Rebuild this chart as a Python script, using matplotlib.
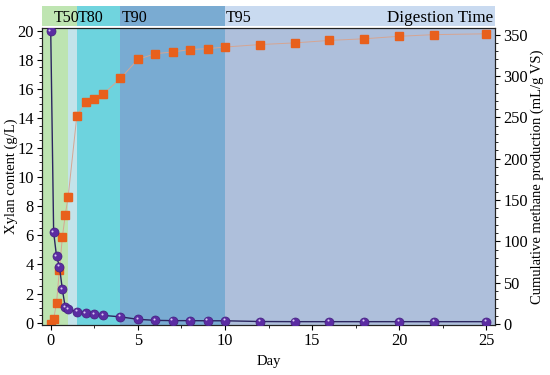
import numpy as np
import matplotlib.pyplot as plt
from matplotlib.transforms import ScaledTranslation
from matplotlib.ticker import MultipleLocator

plt.rcParams['font.family'] = ['Liberation Serif', 'DejaVu Serif']
plt.rcParams['font.size'] = 10.5

# Xylan content (g/L), left axis
xylan_day = [0, 0.167, 0.333, 0.5, 0.667, 0.833, 1.0, 1.5, 2, 2.5, 3, 4, 5,
             6, 7, 8, 9, 10, 12, 14, 16, 18, 20, 22, 25]
xylan = [20.0, 6.2, 4.55, 3.85, 2.28, 1.06, 0.92, 0.75, 0.67, 0.6, 0.5, 0.4,
         0.23, 0.16, 0.14, 0.14, 0.13, 0.13, 0.08, 0.07, 0.07, 0.07, 0.07,
         0.07, 0.07]

# Cumulative methane production (mL/g VS), right axis
methane_day = xylan_day
methane = [0, 6, 26, 66, 105, 132, 154, 252, 268, 272, 278, 297, 320, 327,
           329, 332, 333, 335, 338, 340, 343, 345, 348, 350, 351]
methane_err = [0, 1, 2, 3, 3, 3, 5, 4, 4, 4, 4, 3, 3, 3, 3, 3, 3, 3, 3, 3,
               3, 3, 3, 3, 4]

# Digestion-time stages
stage_edges = [-0.5, 1.0, 1.5, 4.0, 10.0, 25.5]
plot_colors = ['#bde4b1', '#c3e3ea', '#6dd3de', '#79abd2', '#aebfdb']
strip_edges = [-0.5, 1.5, 4.0, 10.0, 25.5]
strip_colors = ['#bfe5b2', '#70d4de', '#7aabd2', '#c9daf0']
strip_labels = ['T50', 'T80', 'T90', 'T95']
strip_label_x = [0.15, 1.55, 4.05, 10.05]

fig = plt.figure(figsize=(5.5, 3.75), dpi=100)
rect = [0.0764, 0.1333, 0.8236, 0.792]

# coloured stages behind everything
bg = fig.add_axes(rect, zorder=-1)
for i, c in enumerate(plot_colors):
    bg.axvspan(stage_edges[i], stage_edges[i + 1], color=c, lw=0)
bg.set_xlim(-0.5, 25.5)
bg.axis('off')

ax = fig.add_axes(rect)
ax2 = ax.twinx()
ax.set_zorder(ax2.get_zorder() + 1)
ax.patch.set_visible(False)
ax2.patch.set_visible(False)

# methane on the right axis
ax2.plot(methane_day, methane, color='#d6a592', lw=0.7, zorder=2)
ax2.errorbar(methane_day, methane, yerr=methane_err, fmt='s', ms=5.2,
             color='#e8601c', mec='#e8601c', ecolor='#f0a070', elinewidth=0.8,
             capsize=2, zorder=3)
ax2.set_ylim(-1, 358)
ax2.set_ylabel('Cumulative methane production (mL/g VS)')
ax2.yaxis.set_label_coords(1.079, 0.5)
ax2.yaxis.set_major_locator(MultipleLocator(50))
ax2.yaxis.set_minor_locator(MultipleLocator(10))

# xylan on the left axis (purple spheres)
ax.plot(xylan_day, xylan, color='#2b2560', lw=1.0, marker='o', ms=6.5,
        mfc='#5b2ca2', mec='#44207e', mew=0.5, zorder=4)
hl = ax.transData + ScaledTranslation(-0.9 / 72, 1.0 / 72, fig.dpi_scale_trans)
ax.plot(xylan_day, xylan, ls='none', marker='o', ms=1.5, mfc='#d8ccf2',
        mec='none', transform=hl, zorder=5)

ax.set_xlim(-0.5, 25.5)
ax.set_ylim(-0.16, 20.2)
ax.set_xlabel('Day')
ax.set_ylabel('Xylan content (g/L)')
ax.yaxis.set_label_coords(-0.053, 0.5)
ax.xaxis.set_major_locator(MultipleLocator(5))
ax.xaxis.set_minor_locator(MultipleLocator(2.5))
ax.yaxis.set_major_locator(MultipleLocator(2))
ax.yaxis.set_minor_locator(MultipleLocator(0.5))
for a in (ax, ax2):
    a.tick_params(which='major', length=3.5, width=0.8, labelsize=11.8,
                  pad=2.5)
    a.tick_params(which='minor', length=2, width=0.6)
    for s in a.spines.values():
        s.set_color('#222222')
        s.set_linewidth(0.8)

# stage strip above the plot
strip = fig.add_axes([0.0764, 0.9307, 0.8236, 0.053])
for i, c in enumerate(strip_colors):
    strip.axvspan(strip_edges[i], strip_edges[i + 1], color=c, lw=0)
for lab, x in zip(strip_labels, strip_label_x):
    strip.text(x, 0.42, lab, ha='left', va='center', fontsize=11.5)
strip.text(25.4, 0.42, 'Digestion Time', ha='right', va='center',
           fontsize=12.3)
strip.set_xlim(-0.5, 25.5)
strip.set_ylim(0, 1)
strip.axis('off')

fig.savefig('out.png', dpi=100)
